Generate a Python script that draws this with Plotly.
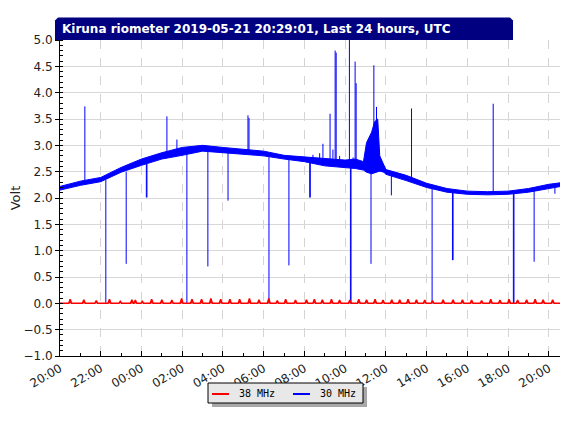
import numpy as np
import pandas as pd
import plotly.graph_objects as go

START = pd.Timestamp("2019-05-20 20:00")

# 30 MHz: lower / upper edge of the noisy trace, hours after 2019-05-20 20:00
band_h = [0, 1, 2, 3, 4, 5, 6, 7, 8, 9, 10, 11, 12, 13, 14, 14.5, 14.9, 15.05,
          15.3, 15.45, 15.6, 15.7, 15.9, 16, 17, 18, 19, 20, 21, 22, 23, 24, 24.6]
band_lo = [2.15, 2.24, 2.31, 2.49, 2.62, 2.74, 2.81, 2.89, 2.86, 2.83, 2.80, 2.74,
           2.69, 2.61, 2.58, 2.56, 2.53, 2.49, 2.46, 2.48, 2.51, 2.51, 2.49, 2.45,
           2.33, 2.20, 2.11, 2.07, 2.06, 2.07, 2.11, 2.17, 2.22]
band_hi = [2.22, 2.32, 2.39, 2.58, 2.74, 2.86, 2.96, 3.00, 2.96, 2.92, 2.89, 2.81,
           2.78, 2.76, 2.72, 2.74, 2.69, 3.05, 3.25, 3.45, 3.50, 2.80, 2.61, 2.54,
           2.43, 2.28, 2.18, 2.13, 2.12, 2.13, 2.18, 2.26, 2.29]

# 30 MHz spikes: time, level where the spike leaves the trace, tip value
spike_h = [1.22, 5.25, 5.74, 9.23, 9.28, 12.42, 12.75, 12.91, 13.26, 13.40, 13.51,
           13.56, 13.73, 14.21, 14.39, 14.49, 14.54, 15.41, 15.54, 17.26, 21.27,
           2.25, 3.25, 4.24, 4.27, 6.23, 7.26, 8.25, 10.26, 11.24, 12.26, 12.29,
           14.26, 14.29, 15.27, 16.27, 18.27, 19.27, 19.30, 22.26, 22.29, 23.28, 24.30]
spike_base = [2.30, 2.80, 2.85, 2.88, 2.88, 2.72, 2.72, 2.70, 2.70, 2.70, 2.68,
              2.68, 2.68, 2.65, 2.65, 2.65, 2.65, 2.60, 2.60, 2.38, 2.09,
              2.35, 2.50, 2.65, 2.65, 2.85, 2.90, 2.88, 2.85, 2.78, 2.73, 2.73,
              2.65, 2.65, 2.50, 2.45, 2.24, 2.15, 2.15, 2.10, 2.10, 2.15, 2.22]
spike_tip = [3.74, 3.55, 3.11, 3.57, 3.52, 2.82, 2.85, 3.03, 3.60, 2.92, 4.80,
             4.76, 2.80, 5.20, 2.77, 4.59, 4.18, 4.52, 3.73, 3.70, 3.79,
             0.00, 0.75, 2.01, 2.01, 0.00, 0.70, 1.95, 0.00, 0.72, 2.01, 2.01,
             0.00, 0.00, 0.75, 2.05, 0.00, 0.82, 0.82, 0.00, 0.00, 0.79, 2.08]

# 38 MHz: flat at 0 V with small bumps
pulse_h = [0.50, 1.17, 1.78, 2.43, 2.96, 3.53, 3.70, 4.04, 4.50, 5.00, 5.49, 5.97,
           6.48, 6.95, 7.41, 7.89, 8.34, 8.82, 9.30, 9.77, 10.25, 10.67, 11.08,
           11.56, 12.10, 12.49, 12.88, 13.33, 13.73, 14.23, 14.67, 15.05, 15.47,
           15.86, 16.29, 16.68, 17.09, 17.50, 17.91, 18.29, 18.81, 19.30, 19.76,
           20.21, 20.70, 21.15, 21.60, 22.05, 22.47, 22.91, 23.33, 23.72, 24.19]
pulse_v = [0.08, 0.07, 0.05, 0.08, 0.04, 0.07, 0.06, 0.04, 0.08, 0.07, 0.06, 0.09,
           0.08, 0.08, 0.09, 0.08, 0.08, 0.08, 0.09, 0.07, 0.09, 0.05, 0.08,
           0.06, 0.07, 0.08, 0.07, 0.08, 0.06, 0.06, 0.08, 0.07, 0.08,
           0.06, 0.07, 0.07, 0.08, 0.07, 0.06, 0.05, 0.07, 0.07, 0.07,
           0.06, 0.05, 0.08, 0.06, 0.08, 0.06, 0.07, 0.08, 0.07, 0.07]

series_names = ["38 MHz", "30 MHz"]
TITLE = "Kiruna riometer 2019-05-21 20:29:01, Last 24 hours, UTC"


def to_time(hours):
    return [(START + pd.Timedelta(hours=h)).strftime("%Y-%m-%d %H:%M:%S") for h in hours]


BLUE = "#0000ff"
RED = "#ff0000"

fig = go.Figure()

# noisy 30 MHz trace drawn as a filled band
fig.add_trace(go.Scatter(x=to_time(band_h), y=band_lo, mode="lines",
                         line=dict(color=BLUE, width=1), showlegend=False))
fig.add_trace(go.Scatter(x=to_time(band_h), y=band_hi, mode="lines", fill="tonexty",
                         fillcolor=BLUE, line=dict(color=BLUE, width=1), showlegend=False))

# spikes as vertical segments
sx, sy = [], []
for t, b, v in zip(to_time(spike_h), spike_base, spike_tip):
    sx += [t, t, None]
    sy += [b, v, None]
fig.add_trace(go.Scatter(x=sx, y=sy, mode="lines", line=dict(color=BLUE, width=1),
                         showlegend=False))

# 38 MHz on top
rh, rv = [0.0], [0.0]
for h, v in zip(pulse_h, pulse_v):
    rh += [h - 0.07, h, h + 0.07]
    rv += [0.0, v, 0.0]
rh.append(24.6)
rv.append(0.0)
fig.add_trace(go.Scatter(x=to_time(rh), y=rv, mode="lines", fill="tozeroy",
                         fillcolor=RED, line=dict(color=RED, width=1.5), showlegend=False))

# paper units: plot area is 500 x 316 px
px, py = 1 / 500, 1 / 316

# title bar with clipped top corners
x0, x1 = -5 * px, 453 * px
y0, y1 = 1.0, 1.0 + 22.5 * py
c = 3
fig.add_shape(type="path", xref="paper", yref="paper", layer="above",
              path=(f"M {x0},{y0} L {x0},{y1 - c * py} L {x0 + c * px},{y1} "
                    f"L {x1 - c * px},{y1} L {x1},{y1 - c * py} L {x1},{y0} Z"),
              fillcolor="#000080", line=dict(width=0))
fig.add_annotation(x=-0.5 * px, y=y0 + 11 * py, xref="paper", yref="paper",
                   xanchor="left", yanchor="middle", showarrow=False, text=TITLE,
                   font=dict(family="DejaVu Sans", size=12, color="white", weight="bold"))

# legend box drawn by hand (shadow, box, swatches, labels)
lx0, lx1, ly0, ly1 = 148, 303, -27, -47
fig.add_shape(type="rect", xref="paper", yref="paper",
              x0=(lx0 + 4) * px, x1=(lx1 + 4) * px, y0=(ly1 - 4) * py, y1=(ly0 - 4) * py,
              fillcolor="#a8a8a8", line=dict(width=0))
fig.add_shape(type="rect", xref="paper", yref="paper",
              x0=lx0 * px, x1=lx1 * px, y0=ly1 * py, y1=ly0 * py,
              fillcolor="#e8e8e8", line=dict(color="black", width=1))
for name, color, sw in zip(series_names, [RED, BLUE], [152, 233]):
    fig.add_shape(type="line", xref="paper", yref="paper",
                  x0=sw * px, x1=(sw + 17) * px, y0=-38 * py, y1=-38 * py,
                  line=dict(color=color, width=2))
    fig.add_annotation(x=(sw + 25) * px, y=-37.5 * py, xref="paper", yref="paper",
                       xanchor="left", yanchor="middle", showarrow=False, text=name,
                       font=dict(family="DejaVu Sans Mono", size=10, color="black"))

# page body adds an 8 px margin, so the figure is 8 px smaller than the window
fig.update_layout(
    width=562, height=418,
    margin=dict(l=52, r=10, t=32, b=70),
    paper_bgcolor="white", plot_bgcolor="white",
    font=dict(family="DejaVu Sans", size=12, color="#222222"),
    showlegend=False,
    xaxis=dict(
        type="date", automargin=False,
        range=["2019-05-20 20:00", "2019-05-21 20:33"],
        tick0="2019-05-20 20:00", dtick=7200000, tickformat="%H:%M",
        tickangle=-30, ticks="inside", ticklen=5, tickcolor="black",
        showline=True, linecolor="black", linewidth=1,
        showgrid=True, gridcolor="#d4d4d4", griddash="dash", gridwidth=1,
        minor=dict(dtick=3600000, ticks="inside", ticklen=3, tickcolor="black",
                   showgrid=False),
        zeroline=False,
    ),
    yaxis=dict(
        automargin=False,
        range=[-1.0, 5.0], dtick=0.5, tick0=0, tickformat=".1f",
        ticks="outside", ticklen=4, tickcolor="black",
        showline=True, linecolor="black", linewidth=1,
        showgrid=True, gridcolor="#d8d8d8", gridwidth=1,
        minor=dict(dtick=0.1, ticks="inside", ticklen=3, tickcolor="black",
                   showgrid=False),
        zeroline=False,
        title=dict(text="Volt", standoff=14, font=dict(size=13)),
    ),
)

fig.write_html("out.html")
